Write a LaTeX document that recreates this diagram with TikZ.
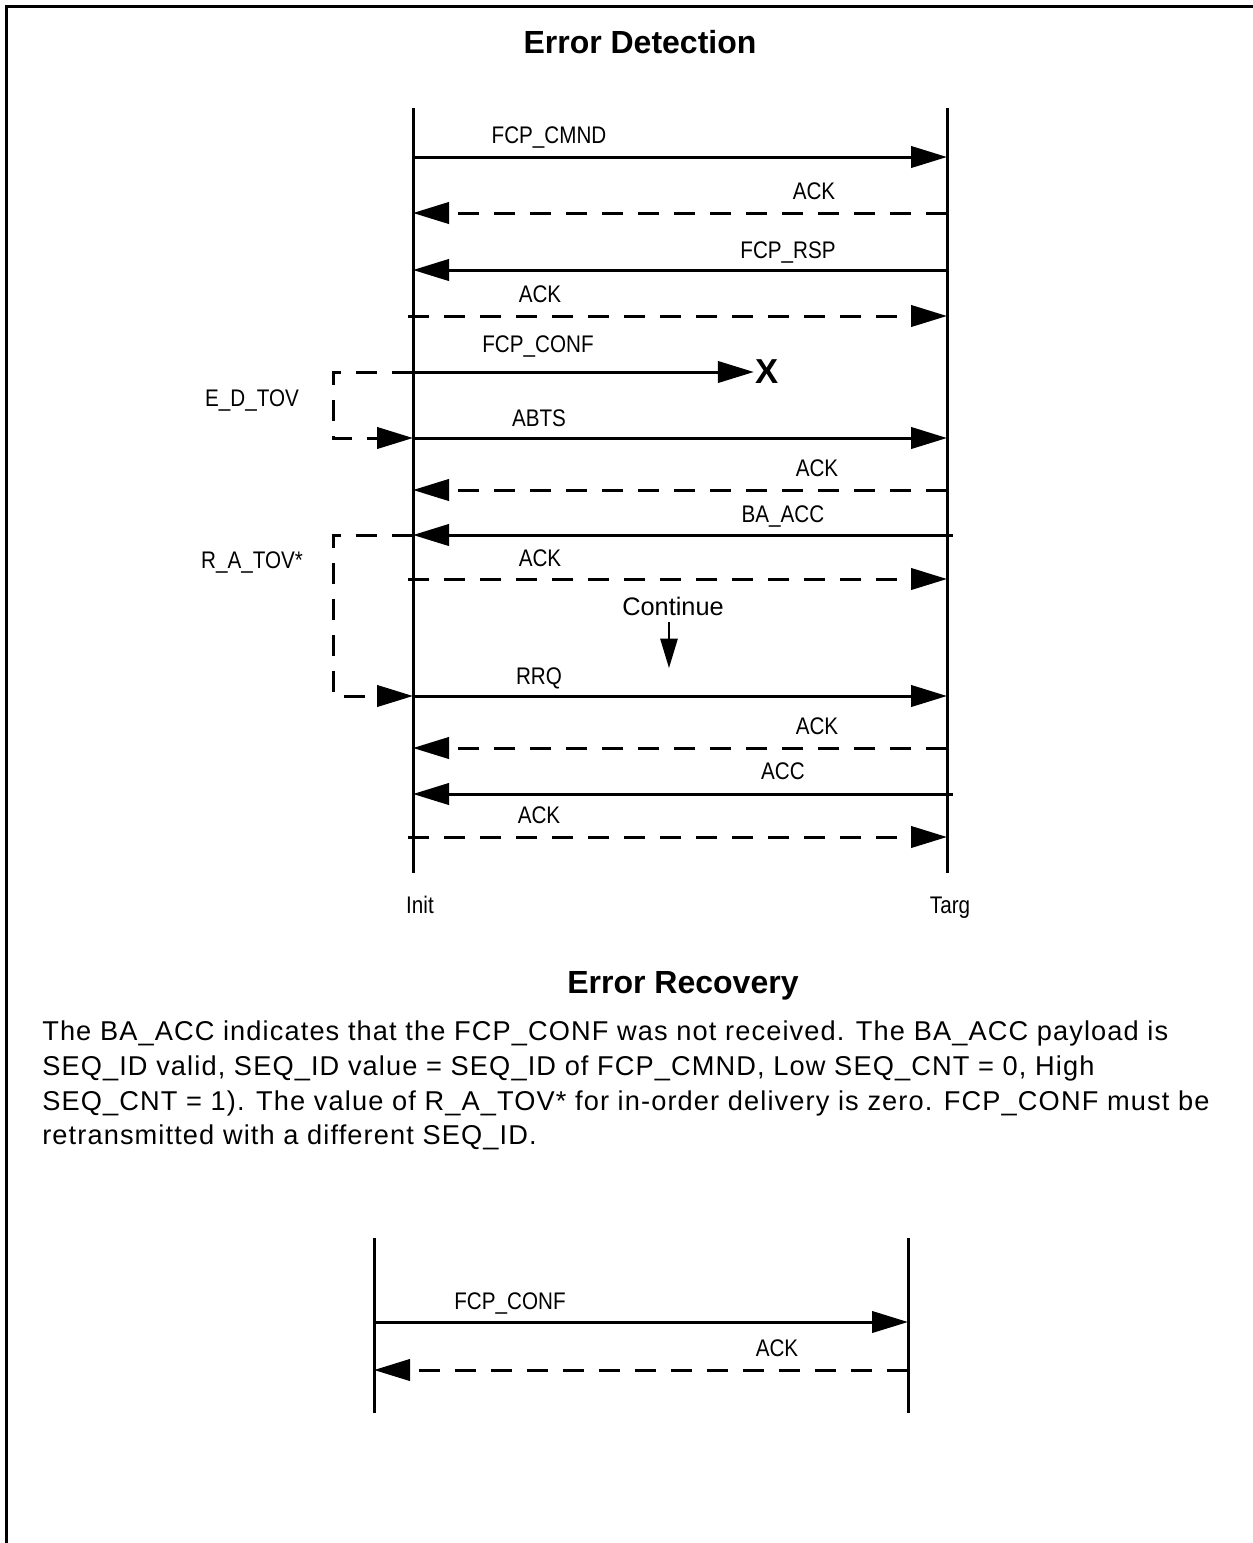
\documentclass[tikz,border=0pt]{standalone}
\usepackage{fontspec}
\setmainfont{Liberation Sans}
\newfontfamily\narrowfont{Liberation Sans}[FakeStretch=0.86]
\newfontfamily\notefont{Liberation Sans}[LetterSpace=4.1]
\usetikzlibrary{arrows.meta}

\begin{document}
\begin{tikzpicture}[x=0.75pt,y=-0.75pt,
    life/.style={line width=2.25pt},
    msg/.style={line width=2.25pt,-{Triangle[length=27pt,width=16pt]}},
    ackmsg/.style={msg,dash pattern=on 16pt off 11pt},
    timer/.style={ackmsg},
    lbl/.style={anchor=base,inner sep=0pt,font=\narrowfont\fontsize{18}{22}\selectfont},
    heading/.style={anchor=base,inner sep=0pt,font=\bfseries\fontsize{24}{28}\selectfont}]
    \useasboundingbox (0,0) rectangle (1253,1543);
    \draw[life] (1253,6) -- (6,6) -- (6,1543);

    \node[heading] (detect) at (640,53) {Error Detection};

    % lifelines
    \coordinate (init-top) at (413,108);
    \coordinate (init-bot) at (413,873);
    \coordinate (targ-top) at (947,108);
    \coordinate (targ-bot) at (947,873);
    \draw[life] (init-top) -- (init-bot);
    \draw[life] (targ-top) -- (targ-bot);
    \node[lbl] (init) at (420,913) {Init};
    \node[lbl] (targ) at (950,913) {Targ};

    \foreach \n/\xi/\xt/\y in {cmnd/413/947/157, ack1/413/947/213, rsp/413/947/270,
        ack2/408/947/316, conf/413/947/372, abts/413/947/438, ack3/413/947/490,
        baacc/413/953/535, ack4/408/947/579, rrq/413/947/696, ack5/413/947/748,
        acc/413/953/794, ack6/408/947/837} {
        \coordinate (i-\n) at (\xi,\y);
        \coordinate (t-\n) at (\xt,\y);
    }

    \draw[msg] (i-cmnd) -- (t-cmnd);
    \node[lbl] (l-cmnd) at (549,143) {FCP\_CMND};
    \draw[ackmsg] (t-ack1) -- (i-ack1);
    \node[lbl] (l-ack1) at (814,199) {ACK};
    \draw[msg] (t-rsp) -- (i-rsp);
    \node[lbl] (l-rsp) at (788,258) {FCP\_RSP};
    \draw[ackmsg] (i-ack2) -- (t-ack2);
    \node[lbl] (l-ack2) at (540,302) {ACK};

    \node[inner sep=1pt,font=\bfseries\fontsize{26}{30}\selectfont] (lost) at (767,372) {X};
    \draw[msg] (i-conf) -- (lost.west);
    \node[lbl] (l-conf) at (538,352) {FCP\_CONF};

    % E_D_TOV
    \coordinate (edtov-c) at (333,438);
    \draw[timer] (i-conf) -| (edtov-c) -- (i-abts);
    \node[lbl] (edtov) at (252,406) {E\_D\_TOV};

    \draw[msg] (i-abts) -- (t-abts);
    \node[lbl] (l-abts) at (539,426) {ABTS};
    \draw[ackmsg] (t-ack3) -- (i-ack3);
    \node[lbl] (l-ack3) at (817,476) {ACK};
    \draw[msg] (t-baacc) -- (i-baacc);
    \node[lbl] (l-baacc) at (783,522) {BA\_ACC};
    \draw[ackmsg] (i-ack4) -- (t-ack4);
    \node[lbl] (l-ack4) at (540,566) {ACK};

    % R_A_TOV
    \coordinate (ratov-c) at (333,696);
    \draw[timer] (i-baacc) -| (ratov-c) -- (i-rrq);
    \node[lbl] (ratov) at (252,568) {R\_A\_TOV*};

    \node[anchor=base,inner sep=0pt,font=\fontsize{19}{22}\selectfont] (cont) at (673,615) {Continue};
    \coordinate (cont-tip) at (669,668);
    \draw[line width=1.2pt,-{Triangle[length=22pt,width=13pt]}] (669,622) -- (cont-tip);

    \draw[msg] (i-rrq) -- (t-rrq);
    \node[lbl] (l-rrq) at (539,684) {RRQ};
    \draw[ackmsg] (t-ack5) -- (i-ack5);
    \node[lbl] (l-ack5) at (817,734) {ACK};
    \draw[msg] (t-acc) -- (i-acc);
    \node[lbl] (l-acc) at (783,779) {ACC};
    \draw[ackmsg] (i-ack6) -- (t-ack6);
    \node[lbl] (l-ack6) at (539,823) {ACK};

    \node[heading] (recover) at (683,993) {Error Recovery};
    \node[anchor=north west,inner sep=0pt,align=left,font=\notefont\fontsize{20.4}{26}\selectfont] (note) at (42,1021)
        {The BA\_ACC indicates that the FCP\_CONF was not received. The BA\_ACC payload is\\
         SEQ\_ID valid, SEQ\_ID value = SEQ\_ID of FCP\_CMND, Low SEQ\_CNT = 0, High\\
         SEQ\_CNT = 1). The value of R\_A\_TOV* for in-order delivery is zero. FCP\_CONF must be\\
         retransmitted with a different SEQ\_ID.};

    % retransmission
    \coordinate (rinit-top) at (374,1238);
    \coordinate (rinit-bot) at (374,1413);
    \coordinate (rtarg-top) at (908,1238);
    \coordinate (rtarg-bot) at (908,1413);
    \draw[life] (rinit-top) -- (rinit-bot);
    \draw[life] (rtarg-top) -- (rtarg-bot);
    \coordinate (ri-conf) at (374,1322);
    \coordinate (rt-conf) at (908,1322);
    \coordinate (ri-ack) at (374,1370);
    \coordinate (rt-ack) at (908,1370);
    \draw[msg] (ri-conf) -- (rt-conf);
    \node[lbl] (rl-conf) at (510,1309) {FCP\_CONF};
    \draw[ackmsg] (rt-ack) -- (ri-ack);
    \node[lbl] (rl-ack) at (777,1356) {ACK};
\end{tikzpicture}
\end{document}
